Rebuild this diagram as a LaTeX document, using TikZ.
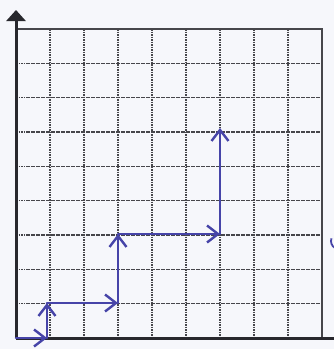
\documentclass[tikz,border=0pt]{standalone}
\usetikzlibrary{arrows.meta}
\definecolor{paper}{RGB}{246,247,251}
\definecolor{gridc}{RGB}{70,70,75}
\definecolor{axisc}{RGB}{40,40,45}
\definecolor{pen}{RGB}{70,68,168}
\tikzset{
  gridline/.style={gridc, line width=1.1pt, dash pattern=on 1.6pt off 0.9pt},
  border/.style={gridc, line width=1.5pt},
  axisline/.style={axisc, line width=3pt},
  vec/.style={pen, line width=2.6pt, line cap=round,
    -{Straight Barb[length=11pt,width=17pt,line width=2.4pt]}},
}
\begin{document}
\begin{tikzpicture}[x=1pt,y=-1pt]
\useasboundingbox[fill=paper] (0,0) rectangle (334,349);
% grid
\foreach \i in {1,...,8} {
  \draw[gridline] ({16+34*\i},29) -- ({16+34*\i},338);
  \draw[gridline] (16,{29+34.33*\i}) -- (322,{29+34.33*\i});
}
\draw[border] (16,29) -- (322,29) -- (322,338);
% axes
\coordinate (O) at (16,338);
\coordinate (ytop) at (16,10);
\coordinate (xend) at (334,338);
\draw[axisline] (O) -- (xend);
\draw[axisline, -{Triangle[length=11pt,width=19pt]}] (O) -- (ytop);
% staircase vectors
\coordinate (p0) at (16,338);
\coordinate (p1) at (47,338);
\coordinate (p2) at (47,303);
\coordinate (p3) at (118,303);
\coordinate (p4) at (118,234);
\coordinate (p5) at (220,234);
\coordinate (p6) at (220,128);
\draw[vec] (p0) -- (p1);
\draw[vec] (p1) -- (p2);
\draw[vec] (p2) -- (p3);
\draw[vec] (p3) -- (p4);
\draw[vec] (p4) -- (p5);
\draw[vec] (p5) -- (p6);
% small mark at right edge
\draw[pen, line width=1.8pt] (335,248) arc[start angle=120, end angle=200, radius=8];
\end{tikzpicture}
\end{document}
